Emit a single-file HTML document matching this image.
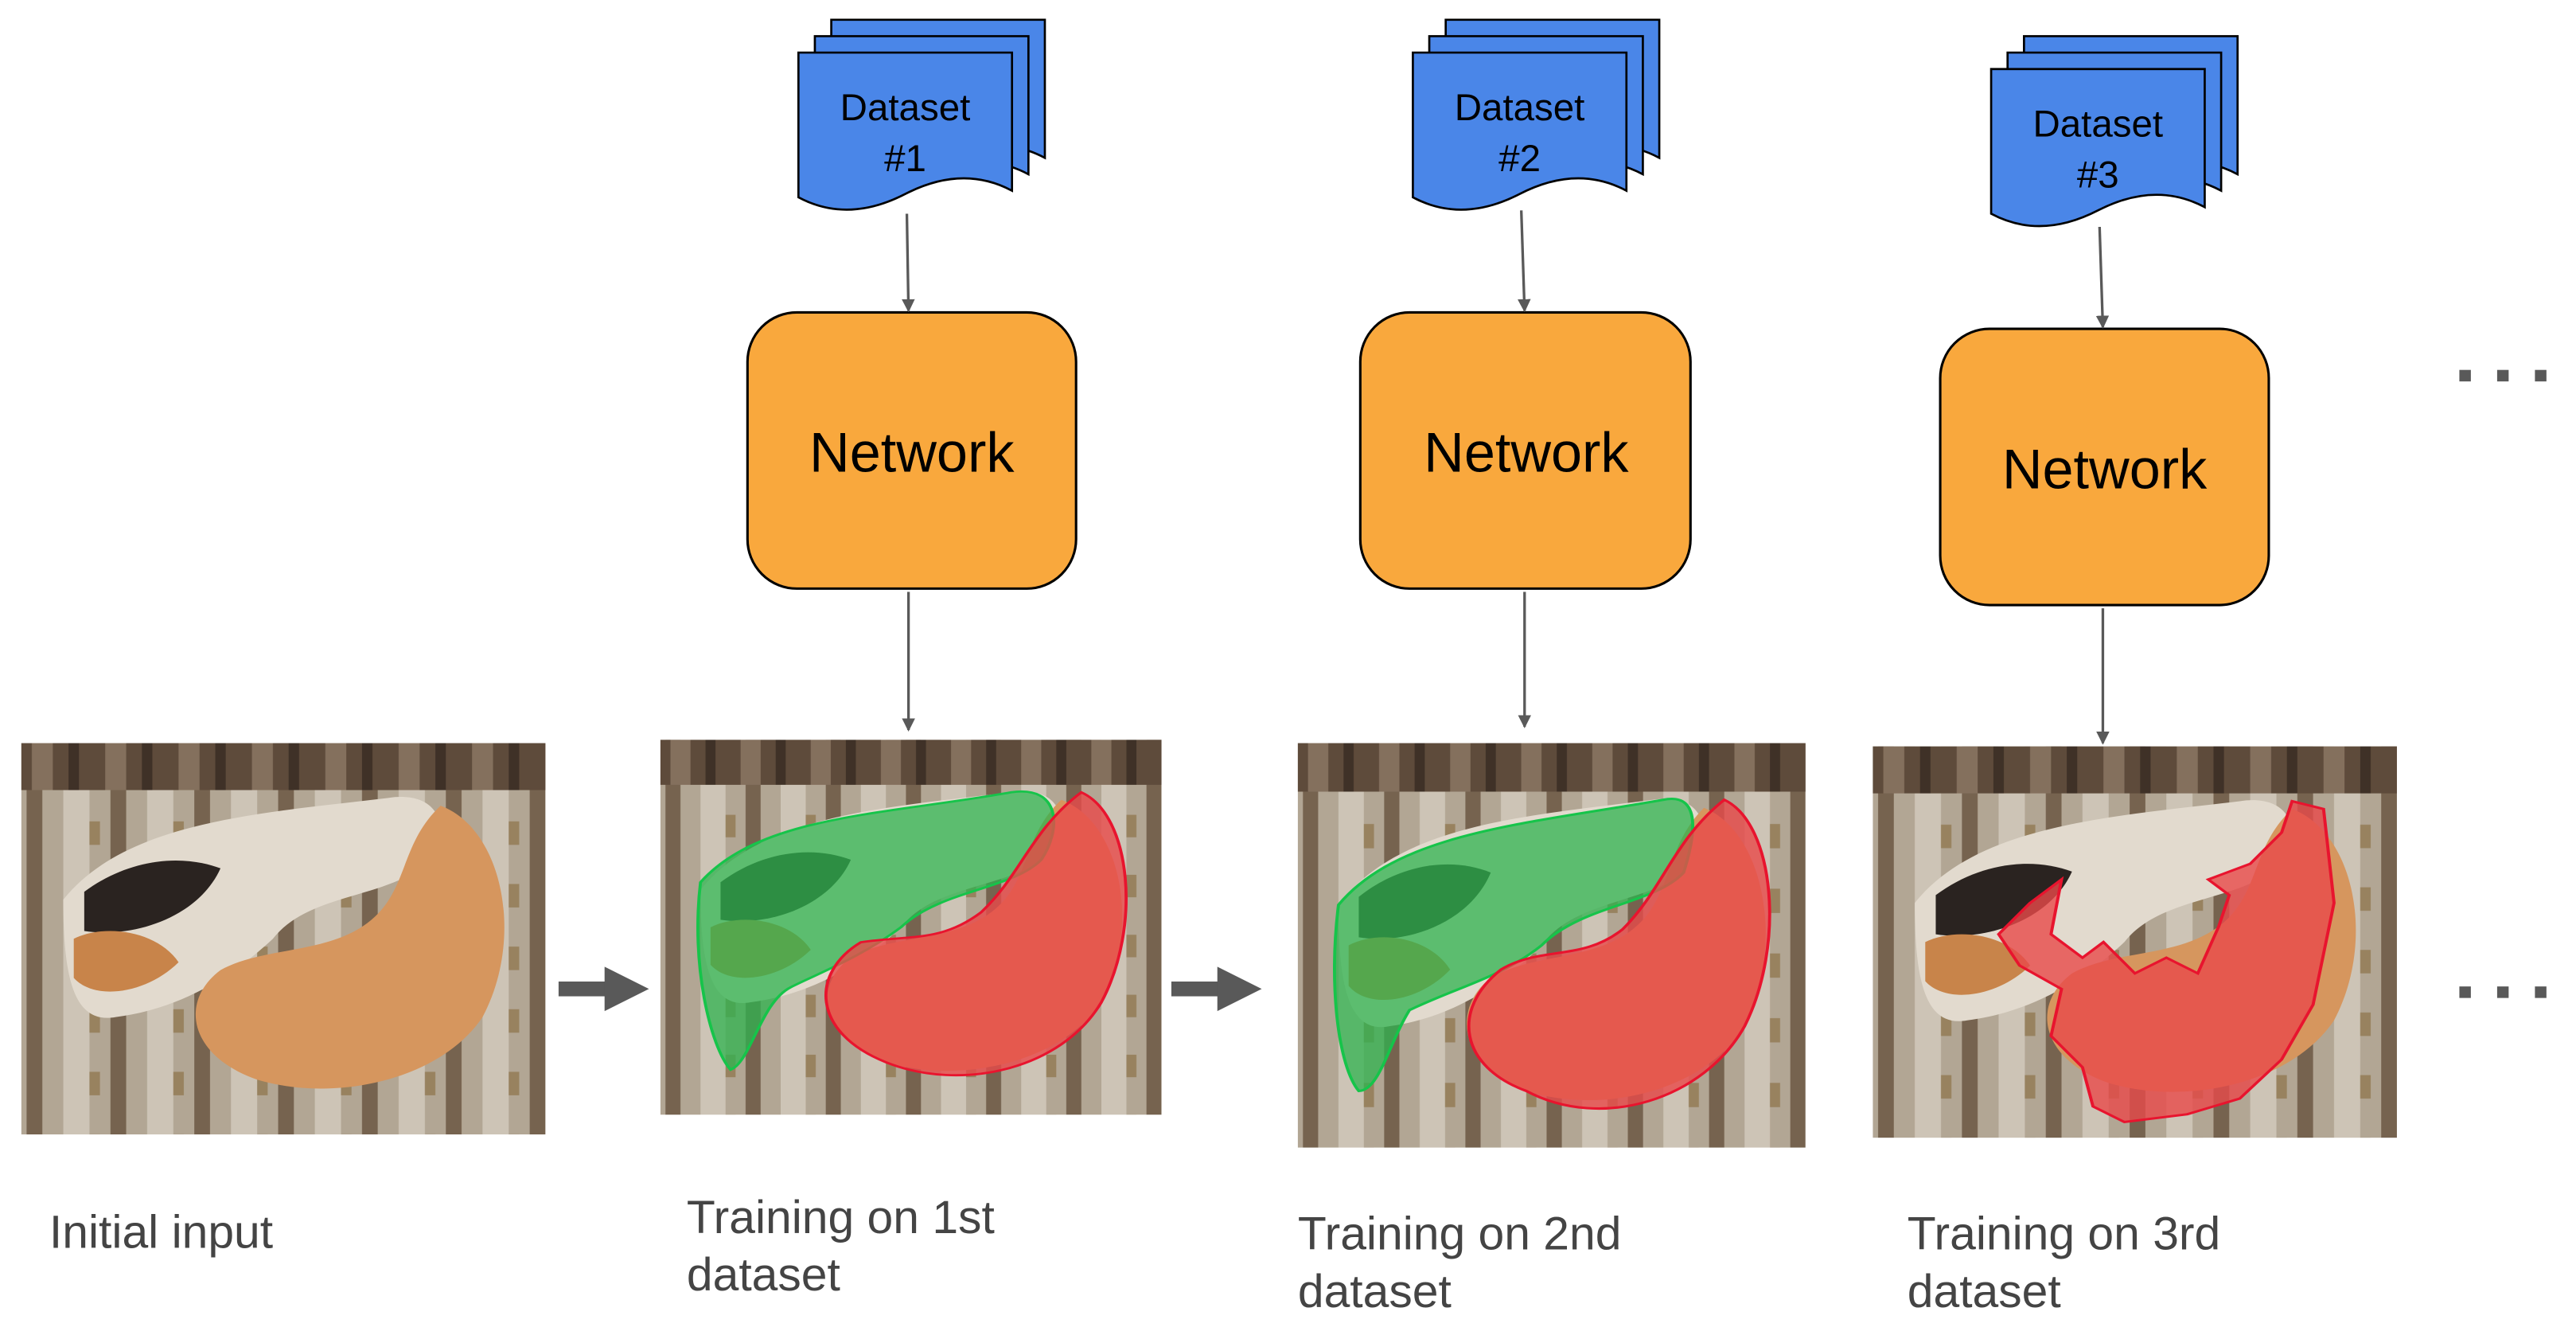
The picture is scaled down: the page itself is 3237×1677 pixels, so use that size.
<!DOCTYPE html>
<html><head><meta charset="utf-8"><style>html,body{margin:0;padding:0;background:#fff}svg{display:block}</style></head>
<body>
<svg width="3237" height="1677" viewBox="0 0 1568 812" preserveAspectRatio="none" xmlns="http://www.w3.org/2000/svg" font-family="Liberation Sans, Arial, sans-serif">
<defs>
<pattern id="wall" width="14" height="14" patternUnits="userSpaceOnUse">
<rect width="14" height="14" fill="#5e4b3b"/><rect x="2" width="4" height="14" fill="#84705d"/><rect x="9" width="2" height="14" fill="#3f3127"/>
</pattern>
<pattern id="rug" width="16" height="16" patternUnits="userSpaceOnUse">
<rect width="16" height="16" fill="#b2a694"/><rect x="1" width="3" height="16" fill="#76634f"/><rect x="8" width="5" height="16" fill="#cdc4b6"/><rect x="13" y="4" width="2" height="6" fill="#98825f"/>
</pattern>
<marker id="ah" markerWidth="8" markerHeight="8" refX="7" refY="4" orient="auto" markerUnits="userSpaceOnUse"><path d="M0,0 L8,4 L0,8 z" fill="#595959"/></marker>
<g id="catimg">
<rect x="0" y="0" width="100" height="100" fill="url(#rug)"/>
<rect x="0" y="0" width="100" height="12" fill="url(#wall)"/>
<path d="M8,40 C20,20 45,18 70,14 C80,12 82,22 78,30 C70,40 55,38 48,50 C40,60 30,68 18,70 C10,72 8,60 8,40 z" fill="#e2dace"/>
<path d="M12,38 C20,30 30,28 38,32 C34,44 22,50 12,48 z" fill="#2a2320"/>
<path d="M10,50 C16,46 26,48 30,56 C24,64 14,66 10,60 z" fill="#c8844a"/>
<path d="M80,16 C92,22 96,50 88,70 C80,86 60,92 45,86 C32,80 30,66 38,58 C46,52 58,54 66,46 C74,38 72,26 80,16 z" fill="#d6965e"/>
</g>
</defs>

<g stroke="#000" stroke-width="1.3" fill="#4a86e8">
<g id="ds1">
<path d="M506,12 h130 v84 q-30,-16 -65,2 t-65,2 z"/>
<path d="M496,22 h130 v84 q-30,-16 -65,2 t-65,2 z"/>
<path d="M486,32 h130 v84 q-30,-16 -65,2 t-65,2 z"/>
</g>
<use href="#ds1" x="374"/>
<use href="#ds1" x="726" y="10"/>
</g>
<g font-size="23" fill="#000" text-anchor="middle">
<text x="551" y="73">Dataset</text><text x="551" y="104">#1</text>
<text x="925" y="73">Dataset</text><text x="925" y="104">#2</text>
<text x="1277" y="83">Dataset</text><text x="1277" y="114">#3</text>
</g>

<g fill="#f9a83d" stroke="#000" stroke-width="1.5">
<rect x="455" y="190" width="200" height="168" rx="30"/>
<rect x="828" y="190" width="201" height="168" rx="30"/>
<rect x="1181" y="200" width="200" height="168" rx="30"/>
</g>
<g font-size="34" fill="#000" text-anchor="middle">
<text x="555" y="287">Network</text>
<text x="929" y="287">Network</text>
<text x="1281" y="297">Network</text>
</g>

<g stroke="#595959" stroke-width="1.6" fill="none" marker-end="url(#ah)">
<line x1="552" y1="130" x2="553" y2="189"/>
<line x1="926" y1="128" x2="928" y2="189"/>
<line x1="1278" y1="138" x2="1280" y2="199"/>
<line x1="553" y1="360" x2="553" y2="444"/>
<line x1="928" y1="360" x2="928" y2="442"/>
<line x1="1280" y1="370" x2="1280" y2="452"/>
</g>

<g transform="translate(13,452) scale(3.19,2.38)"><use href="#catimg"/></g>
<g transform="translate(402,450) scale(3.05,2.28)"><use href="#catimg"/>
<path d="M8,38 C20,20 45,20 70,14 C80,12 80,24 76,32 C70,40 56,40 48,50 C40,58 32,62 26,66 C20,70 18,86 14,88 C10,82 6,60 8,38 z" fill="#2fb34f" fill-opacity="0.75" stroke="#16c44a" stroke-width="0.6"/>
<path d="M84,14 C94,20 96,50 88,70 C80,88 60,94 45,86 C30,78 30,62 40,54 C50,52 56,54 64,46 C72,36 74,24 84,14 z" fill="#e84a4a" fill-opacity="0.8" stroke="#e8142e" stroke-width="0.6"/></g>
<g transform="translate(790,452) scale(3.09,2.46)"><use href="#catimg"/>
<path d="M8,40 C20,22 45,20 72,14 C80,12 78,24 76,32 C70,40 56,40 48,50 C40,58 32,60 22,66 C18,74 16,86 12,86 C8,80 6,60 8,40 z" fill="#2fb34f" fill-opacity="0.75" stroke="#16c44a" stroke-width="0.6"/>
<path d="M84,14 C94,20 96,50 88,70 C80,88 60,96 45,86 C32,80 30,66 40,56 C48,50 56,54 64,46 C72,36 74,24 84,14 z" fill="#e84a4a" fill-opacity="0.8" stroke="#e8142e" stroke-width="0.6"/></g>
<g transform="translate(1140,454) scale(3.19,2.38)"><use href="#catimg"/>
<path d="M30,40 L36,34 L34,48 L40,54 L44,50 L50,58 L56,54 L62,58 L66,46 L68,38 L64,34 L72,30 L78,22 L80,14 L86,16 L88,40 L84,66 L78,80 L70,90 L60,94 L48,96 L42,92 L40,82 L34,74 L36,62 L28,56 L24,48 z" fill="#e84a4a" fill-opacity="0.8" stroke="#e8142e" stroke-width="0.6"/></g>

<g fill="#595959">
<rect x="340" y="597" width="30" height="9"/><path d="M368,588 L395,601.5 L368,615 z"/>
<rect x="713" y="597" width="30" height="9"/><path d="M741,588 L768,601.5 L741,615 z"/>
<rect x="1497" y="225" width="7" height="7"/><rect x="1520" y="225" width="7" height="7"/><rect x="1543" y="225" width="7" height="7"/>
<rect x="1497" y="600" width="7" height="7"/><rect x="1520" y="600" width="7" height="7"/><rect x="1543" y="600" width="7" height="7"/>
</g>

<g font-size="28.5" fill="#444">
<text x="30" y="759">Initial input</text>
<text x="418" y="750">Training on 1st</text><text x="418" y="785">dataset</text>
<text x="790" y="760">Training on 2nd</text><text x="790" y="795">dataset</text>
<text x="1161" y="760">Training on 3rd</text><text x="1161" y="795">dataset</text>
</g>
</svg>
</body></html>
